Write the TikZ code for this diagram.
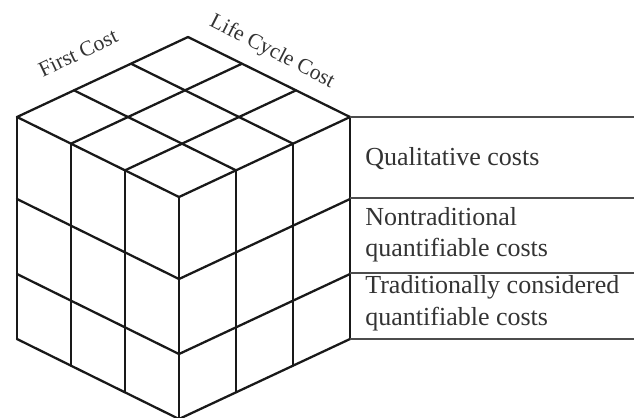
\documentclass[tikz,border=0pt]{standalone}
\usepackage{fontspec}
\setmainfont{Liberation Serif}
\usetikzlibrary{calc}
\begin{document}
\begin{tikzpicture}[x=0.02cm,y=-0.02cm,
  cube/.style={line width=1.3pt, line join=round, line cap=round, black!90},
  tab/.style={line width=1pt, black!70},
  lab/.style={font=\fontsize{14.8}{18}\selectfont, anchor=base west, inner sep=0pt, text=black!80},
  axislab/.style={font=\fontsize{12.3}{15}\selectfont, inner sep=0pt, text=black!80}]
\useasboundingbox (0,0) rectangle (634,417);
% top face grid points
\foreach \i in {0,...,3}{
  \foreach \j in {0,...,3}{
    \coordinate (P\i\j) at ({188-57*\i+54*\j},{37+80/3*\i+80/3*\j});
  }
}
% top face
\foreach \i in {0,...,3}{
  \draw[cube] (P\i0) -- (P\i3);
  \draw[cube] (P0\i) -- (P3\i);
}
% verticals of the side faces
\foreach \k in {0,...,3}{
  \draw[cube] (P3\k) -- ++(0,222);
}
\foreach \k in {0,...,2}{
  \draw[cube] (P\k3) -- ++(0,222);
}
% rows of the side faces
\foreach \d in {82,157,222}{
  \draw[cube] ($(P30)+(0,\d)$) -- ($(P33)+(0,\d)$) -- ($(P03)+(0,\d)$);
}
% table lines
\foreach \d [count=\n] in {0,81,156,222}{
  \coordinate (E\n) at (634,{117+\d});
  \draw[tab] ($(P03)+(0,\d)$) -- (E\n);
}
% labels
\node[lab] (q1) at (365,165) {Qualitative costs};
\node[lab] (n1) at (365,225) {Nontraditional};
\node[lab] (n2) at (365,256) {quantifiable costs};
\node[lab] (t1) at (365,293) {Traditionally considered};
\node[lab] (t2) at (365,325) {quantifiable costs};
\node[axislab, rotate=25.5] (fc) at (78,53) {First Cost};
\node[axislab, rotate=-27] (lcc) at (272,52) {Life Cycle Cost};
\end{tikzpicture}
\end{document}
